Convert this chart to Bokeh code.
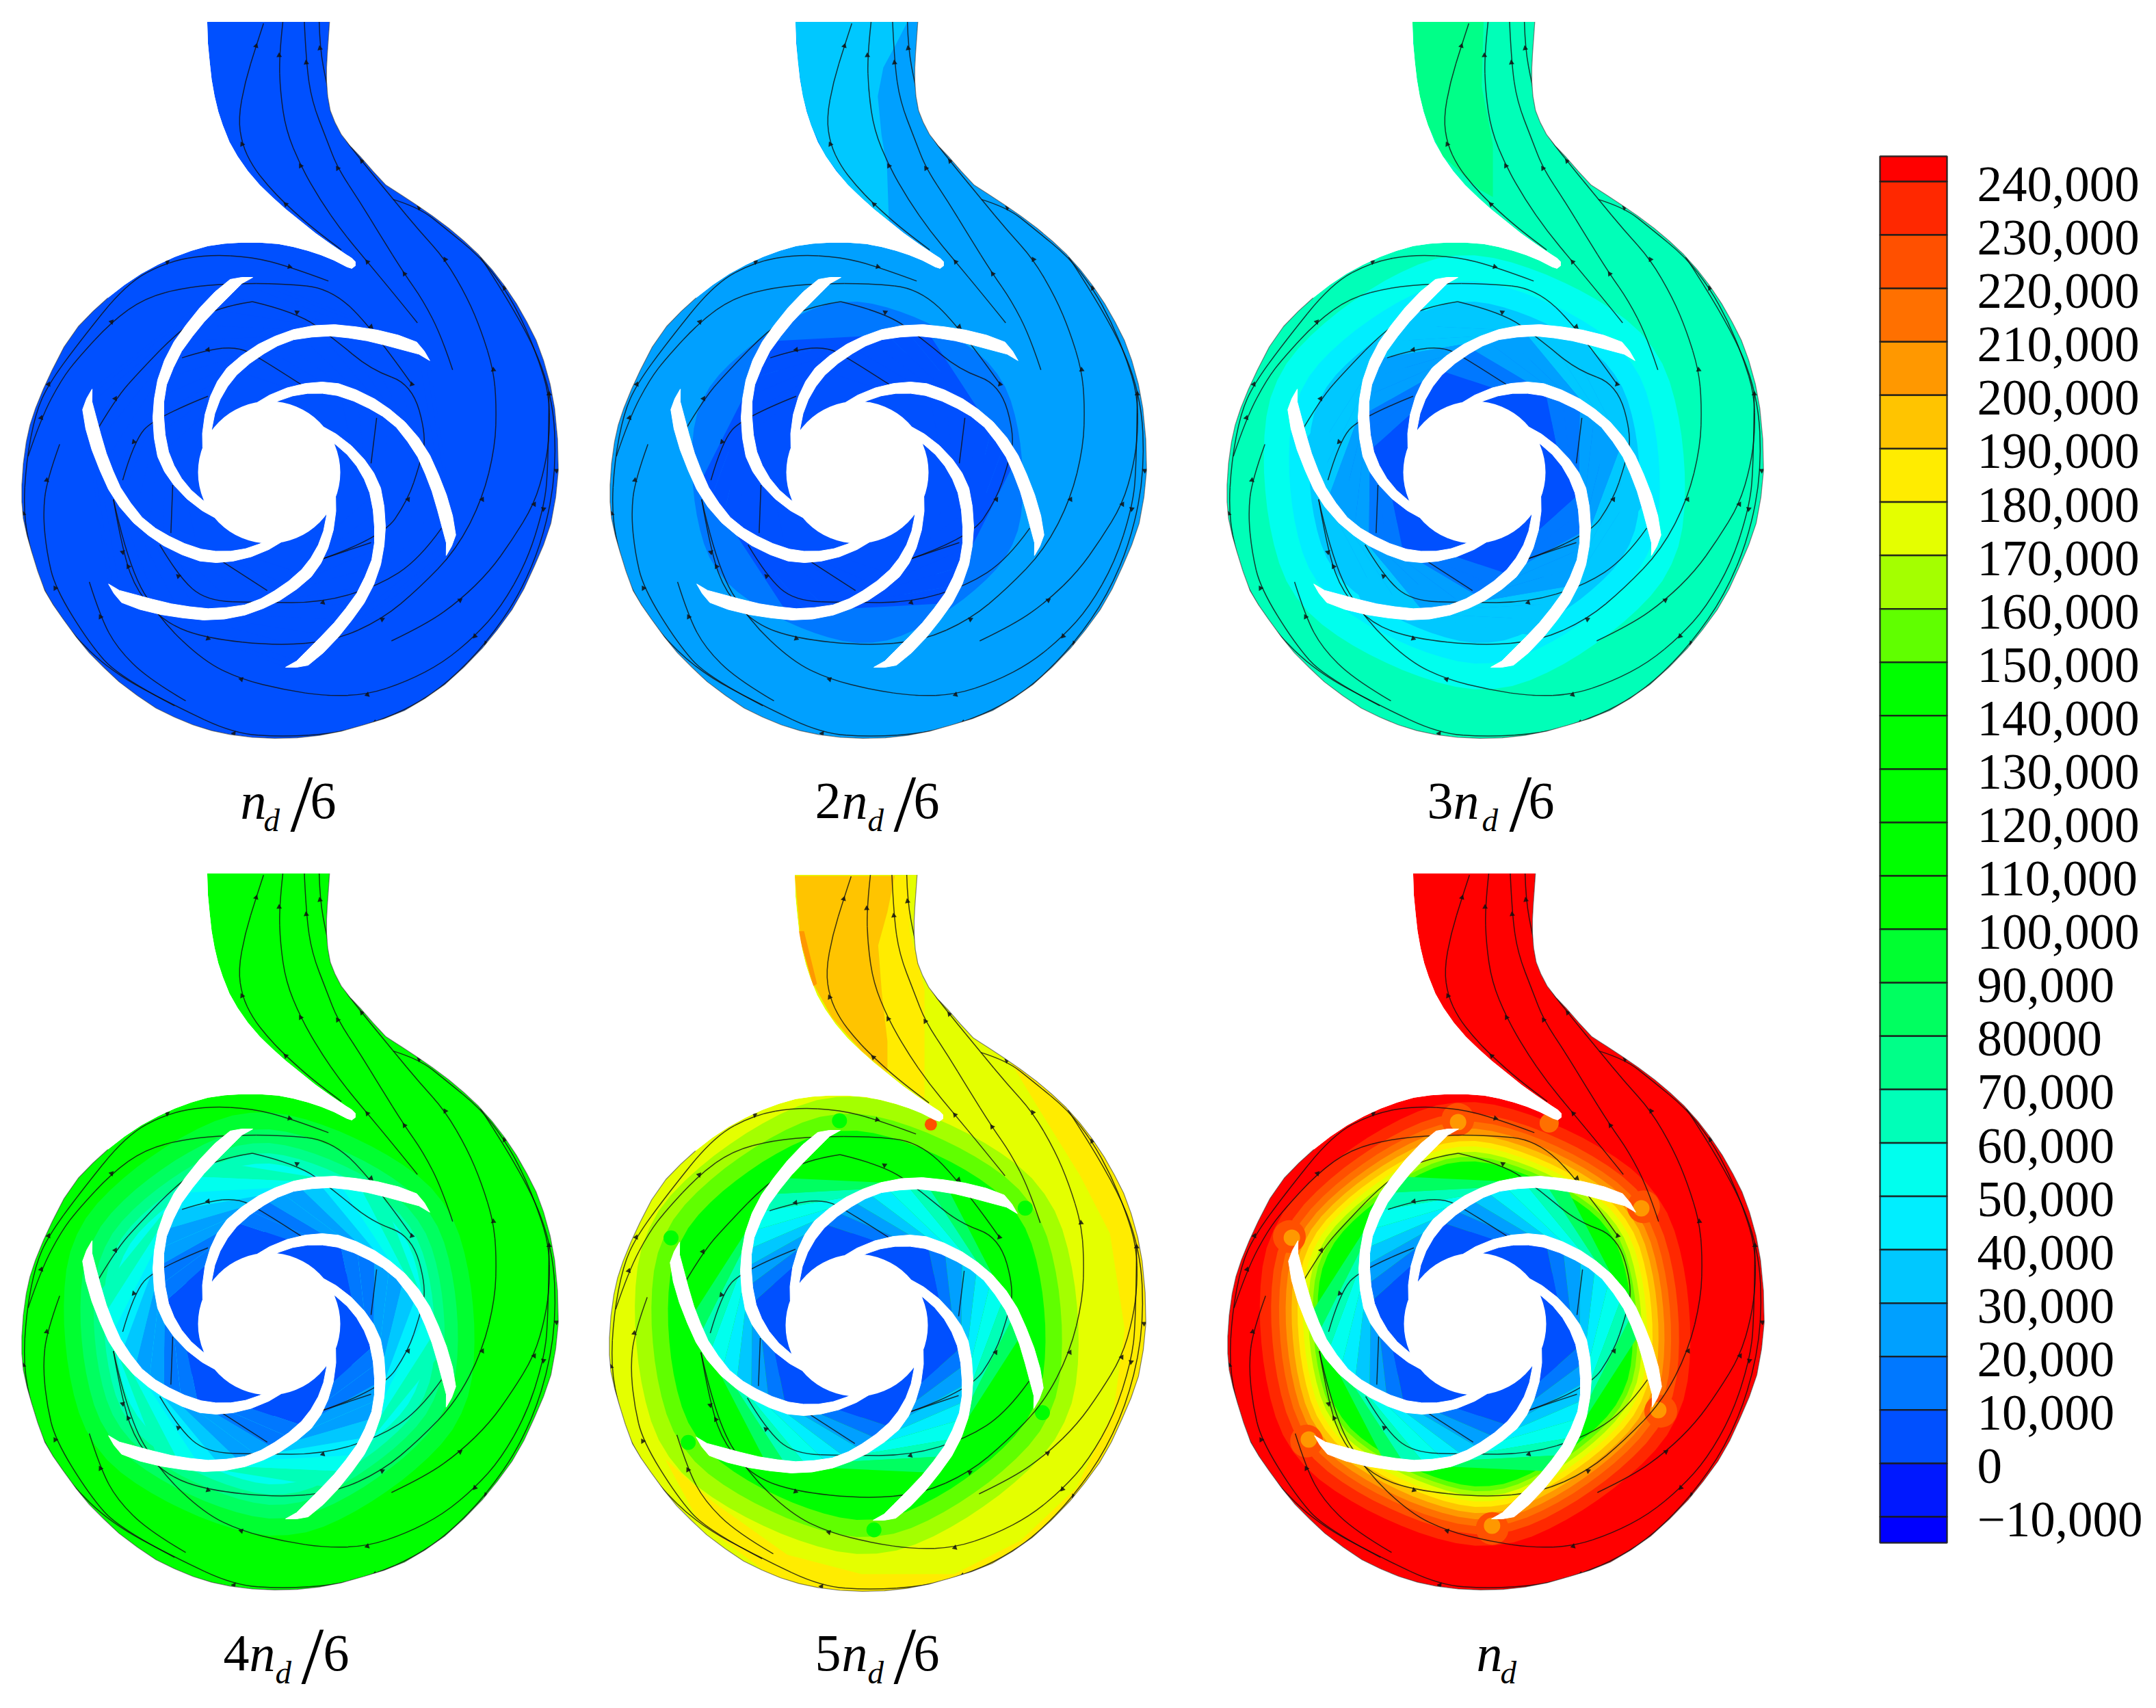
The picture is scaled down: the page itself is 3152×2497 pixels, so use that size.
import math
from bokeh.plotting import figure
from bokeh.embed import file_html
from bokeh.resources import INLINE

# ---- colour bar ----
LEVEL_LABELS = ["240,000","230,000","220,000","210,000","200,000","190,000","180,000","170,000","160,000",
                "150,000","140,000","130,000","120,000","110,000","100,000","90,000","80000","70,000","60,000",
                "50,000","40,000","30,000","20,000","10,000","0","\u221210,000"]
BLOCK_VALUES = [245,235,225,215,205,195,185,175,165,155,145,135,125,115,105,95,85,75,65,55,45,35,25,15,5,-5,-15]
BLOCK_COLORS = ["#FF0000","#FF2800","#FF5000","#FF7000","#FF9800","#FFC400","#FFEC00","#E4FF00","#A4FF00","#60FF00",
                "#00FF00","#00FF00","#00FF00","#00FF00","#00FF00","#00FF30","#00FF60","#00FF88","#00FFB8","#00FFEE",
                "#00EEFF","#00C8FF","#00A0FF","#0078FF","#0050FF","#0018FF","#0000FF"]
COLOR = dict(zip(BLOCK_VALUES, BLOCK_COLORS))
BAR_TOP, BAR_FIRST, BAR_STEP, BAR_BOTTOM, BAR_L, BAR_R = 228, 265, 78.08, 2255, 2748, 2846

# ---- pump geometry (crop scale) ----
SX, SY = 1/1.845, 1/1.4255
OUTLINE_Z = [(558,45),(560,90),(565,130),(570,165),(578,200),(588,232),(600,260),(618,295),(640,325),(668,356),(700,385),(735,411),(770,435),(810,460),(850,485),(890,507),(930,528),(948,537),(958,545),(958,553),(948,559),(935,556),(900,542),(865,531),(830,522),(790,514),(750,508),(700,505),(650,505),(605,507),(560,512),(515,522),(470,535),(425,551),(380,570),(335,593),(290,620),(250,648),(210,680),(172,722),(140,770),(116,810),(95,850),(80,885),(70,920),(62,965),(58,1010),(58,1045),(62,1080),(72,1115),(85,1150),(101,1190),(120,1230),(143,1260),(170,1290),(205,1327),(240,1360),(280,1391),(320,1420),(370,1449),(420,1475),(470,1494),(520,1510),(570,1522),(620,1530),(680,1536),(740,1538),(800,1537),(860,1532),(920,1523),(980,1510),(1035,1497),(1090,1480),(1145,1455),(1200,1425),(1250,1390),(1300,1350),(1340,1312),(1380,1270),(1412,1227),(1440,1180),(1465,1135),(1485,1090),(1498,1035),(1505,980),(1503,915),(1495,850),(1483,800),(1465,750),(1445,708),(1420,670),(1392,632),(1360,595),(1326,561),(1290,530),(1250,501),(1210,475),(1165,449),(1120,425),(1080,405),(1040,385),(1005,356),(970,325),(943,303),(920,280),(903,255),(890,230),(883,200),(880,170),(880,140),(882,110),(885,78),(888,45)]
CENTER = (393, 690)
HUB_R = 104
BLADE_OUTER = [(-24,-285),(-40,-285),(-57,-282),(-79,-264),(-101,-241),(-121,-216),(-139,-191),(-153,-164),(-163,-135),(-168,-107),(-170,-80),(-168,-50),(-163,-23),(-153,-1),(-139,19),(-120,39),(-98,56),(-80,66)]
BLADE_INNER = [(-24,-285),(-40,-276),(-54,-262),(-75,-241),(-95,-220),(-112,-199),(-128,-177),(-140,-153),(-150,-128),(-154,-103),(-154,-80),(-152,-55),(-147,-30),(-139,-10),(-128,9),(-114,26),(-98,40),(-84,50)]
RING_LOBE = [1.0,.998,.99,.98,.972,.967,.965,.967,.972,.98,.99,.998]

STREAMLINES_Z = [
 [(710,48),(690,95),(660,170),(642,245),(652,300),(680,345),(720,385),(770,425),(850,480),(920,520)],
 [(762,45),(752,115),(755,190),(770,270),(810,345),(862,415),(920,480),(990,545),(1060,610),(1125,672)],
 [(820,45),(825,130),(840,210),(880,290),(910,350),(970,420),(1025,490),(1090,570),(1140,625),(1190,700),(1220,770)],
 [(860,45),(862,100),(880,175),(910,270),(975,335),(1060,415),(1130,480),(1200,540),(1260,620),(1298,690),(1330,770),(1338,840),(1335,930),(1300,1040),(1230,1145),(1130,1225),(1030,1290),(900,1335),(745,1345),(560,1330),(450,1300),(370,1235),(330,1150),(305,1040)],
 [(1060,415),(1130,432),(1200,475),(1295,535),(1360,600),(1410,670),(1450,745),(1480,820),(1482,900),(1470,970),(1440,1050),(1380,1125),(1320,1190),(1240,1250),(1150,1300),(1055,1335)],
 [(885,585),(780,555),(680,535),(560,530),(450,545),(340,590),(210,715),(130,800),(95,860),(70,960),(62,1070),(85,1160),(110,1220),(180,1310),(300,1400),(470,1470),(630,1528),(760,1535),(905,1528),(1010,1505),(1115,1470),(1210,1420),(1310,1340),(1400,1240),(1465,1120),(1500,980),(1490,820),(1410,670),(1295,535)],
 [(1110,800),(1000,680),(890,600),(760,590),(620,590),(500,598),(390,620),(300,670),(210,745),(165,790),(110,870),(75,950)],
 [(160,925),(125,1000),(115,1070),(125,1150),(148,1225),(240,1340),(320,1410),(470,1470)],
 [(305,1040),(345,1180),(430,1290),(550,1378),(650,1415),(765,1437),(880,1450),(990,1447),(1095,1420),(1195,1380),(1280,1325),(1350,1265),(1420,1170),(1465,1060),(1478,980),(1480,820)],
 [(240,1212),(270,1285),(315,1350),(400,1415),(500,1460)],
 [(680,628),(800,650),(900,705),(1000,770),(1110,800),(1150,910),(1130,970),(1100,1040),(1030,1120),(865,1165)],
 [(680,628),(580,640),(480,690),(380,770),(310,830),(250,910)],
 [(430,1135),(480,1200),(555,1252),(700,1255),(870,1255),(1020,1220),(1130,1165),(1190,1100)],
 [(330,1000),(360,920),(415,870),(560,825)],
 [(490,745),(560,728),(640,722),(700,745),(810,800)],
 [(460,1110),(465,1010)],
 [(1000,965),(1015,870)],
 [(865,1165),(1000,1130)],
 [(600,1170),(720,1230)],
]

# ---- panels: offset, base level, ring (radius, level), passage levels root->tip (None: ring shows) ----
PANEL_DX = [0, 860, 1762, 0, 859, 1763]
PANEL_DY = [0, 0, 0, 1245, 1247, 1245]
PANEL_BASE = [5, 25, 65, 105, 175, 245]
PANEL_RINGS = [
 [],
 [(250,15),(195,5)],
 [(318,55),(280,45),(250,35),(222,25),(190,15)],
 [(310,95),(285,85),(265,75),(250,65),(235,55)],
 [(335,165),(310,155),(285,145)],
 [(325,235),(308,225),(296,215),(286,205),(277,195),(268,185),(260,175),(252,165),(245,155),(238,145)],
]
PANEL_PASSAGE = [
 [5]*13,
 [5,5,5,5,5,5,5,None,None,None,None,None,None],
 [5,15,15,25,25,25,35,35,35,None,None,None,None],
 [5,15,15,25,25,35,45,55,65,None,None,None,None],
 [5,15,25,35,45,55,65,85,None,None,None,None,None],
 [5,15,25,35,45,55,65,85,None,None,None,None,None],
]
EXTRA_P2 = [(35,[(558,45),(860,45),(830,90),(795,140),(780,200),(790,280),(805,350),(810,460),(770,435),(700,385),(640,325),(600,260),(578,200),(565,130)])]
EXTRA_P3 = [(75,[(558,45),(750,45),(745,180),(775,300),(775,410),(740,395),(640,325),(600,260),(578,200),(565,130)])]
EXTRA_P5 = [
 (185,[(1138,432),(1288,492),(1438,642),(1538,942),(1488,1192),(1288,1392),(1038,1552),(738,1552),(538,1532),(298,1392),(208,1262),(338,1352),(538,1462),(738,1502),(988,1502),(1168,1432),(1318,1322),(1418,1162),(1448,992),(1408,792),(1328,672),(1208,522)]),
 (185,[(828,47),(868,47),(868,162),(908,282),(908,512),(808,457),(808,392),(793,292),(783,192),(808,122)]),
 (195,[(558,47),(828,47),(808,122),(783,192),(793,292),(808,392),(808,457),(738,412),(658,342),(608,272),(573,172)]),
 (205,[(568,162),(583,162),(618,272),(608,277),(573,182)]),
]
PANEL_EXTRA = [[], EXTRA_P2, EXTRA_P3, [], EXTRA_P5, []]
# hot spots near blade tips: (tip index, outward offset, radius, level)
SPOTS_P5 = [(k, 14, 11, 145) for k in range(6)]
SPOTS_P6 = [(k, 14, 24, 225) for k in range(6)] + [(k, 10, 12, 205) for k in range(6)]
PANEL_SPOTS = [[], [], [], [], SPOTS_P5, SPOTS_P6]
TONGUE_SPOT = [None, None, None, None, (225,9), (215,14)]
TONGUE_Z = (925, 565)

# ---- captions: (text, x, y offset from baseline, font px, italic) ----
CAPTIONS = [
 [("n",351,0,76,True),("d",385,18,47,True),("/",424,20,118,False),("6",453,0,76,False)],
 [("2",1191,0,76,False),("n",1230,0,76,True),("d",1268,18,47,True),("/",1306,20,118,False),("6",1335,0,76,False)],
 [("3",2086,0,76,False),("n",2124,0,76,True),("d",2166,18,47,True),("/",2206,20,118,False),("6",2234,0,76,False)],
 [("4",326,0,76,False),("n",364,0,76,True),("d",402,18,47,True),("/",440,20,118,False),("6",472,0,76,False)],
 [("5",1191,0,76,False),("n",1230,0,76,True),("d",1268,18,47,True),("/",1306,20,118,False),("6",1335,0,76,False)],
 [("n",2158,0,76,True),("d",2193,18,47,True)],
]
CAPTION_BASE = [1197,1197,1197,2443,2443,2443]
TEXT_RAISE = 0.355   # baseline correction of the svg text, in em

p = figure(width=3144, height=2489, x_range=(0,3144), y_range=(2489,0), output_backend="svg",
           toolbar_location=None, min_border=0, outline_line_color=None)
p.xaxis.visible = False
p.yaxis.visible = False
p.grid.visible = False

outline = [(x*SX, y*SY) for x, y in OUTLINE_Z]

def rot(pt, k):
    a = math.radians(60*k)
    return (pt[0]*math.cos(a)-pt[1]*math.sin(a), pt[0]*math.sin(a)+pt[1]*math.cos(a))

SHIFT = 3
for i in range(6):
    dx, dy = PANEL_DX[i], PANEL_DY[i]
    cx, cy = CENTER[0]+dx, CENTER[1]+dy
    ox = [x+dx for x, _ in outline]; oy = [y+dy for _, y in outline]
    base = PANEL_BASE[i]
    p.patch(ox, oy, fill_color=COLOR[base], line_color=None)
    for lev, poly in PANEL_EXTRA[i]:
        p.patch([x*SX+dx for x, _ in poly], [y*SY+dy for _, y in poly], fill_color=COLOR[lev], line_color=None)
    # contour rings
    for r, lev in PANEL_RINGS[i]:
        rx, ry = [], []
        for j in range(72):
            a = math.radians(-95+5*j)
            f = RING_LOBE[j % 12]
            rx.append(cx+r*f*math.cos(a)); ry.append(cy+r*f*math.sin(a))
        p.patch(rx, ry, fill_color=COLOR[lev], line_color=None)
    # hot spots
    for k, off, rad, lev in PANEL_SPOTS[i]:
        tx, ty = rot(BLADE_OUTER[0], k)
        n = math.hypot(tx, ty)
        p.circle([cx+tx+tx/n*off], [cy+ty+ty/n*off], radius=rad, fill_color=COLOR[lev], line_color=None)
    if TONGUE_SPOT[i]:
        lev, rad = TONGUE_SPOT[i]
        p.circle([TONGUE_Z[0]*SX+dx], [TONGUE_Z[1]*SY+dy], radius=rad, fill_color=COLOR[lev], line_color=None)
    # blade passage bands, tip to root
    levs = PANEL_PASSAGE[i]
    nb = len(levs)
    p.circle([cx], [cy], radius=135, fill_color=COLOR[levs[0]], line_color=None)
    for k in range(6):
        for b in range(nb):
            lev = levs[nb-1-b]
            if lev is None:
                continue
            pts = [rot(BLADE_OUTER[b], k), rot(BLADE_OUTER[b+1], k),
                   rot(BLADE_OUTER[b+1+SHIFT], k+1), rot(BLADE_OUTER[b+SHIFT], k+1)]
            if b == nb-1:
                pts = [rot(q, k) for q in BLADE_OUTER[b:]] + [rot(BLADE_OUTER[b+SHIFT], k+1)]
            p.patch([cx+q[0] for q in pts], [cy+q[1] for q in pts], fill_color=COLOR[lev], line_color=None)
    # streamlines (quadratic curves through the read vertices) and arrow heads
    ax, ay, ang = [], [], []
    for line in STREAMLINES_Z:
        lx = [x*SX+dx for x, _ in line]; ly = [y*SY+dy for _, y in line]
        x0 = [lx[0]] + [(lx[m]+lx[m+1])/2 for m in range(1, len(lx)-2)]
        y0 = [ly[0]] + [(ly[m]+ly[m+1])/2 for m in range(1, len(ly)-2)]
        x1 = [(lx[m]+lx[m+1])/2 for m in range(1, len(lx)-2)] + [lx[-1]]
        y1 = [(ly[m]+ly[m+1])/2 for m in range(1, len(ly)-2)] + [ly[-1]]
        if len(lx) > 2:
            p.quadratic(x0=x0, y0=y0, x1=x1, y1=y1, cx=lx[1:-1], cy=ly[1:-1], line_color="#101010", line_width=1.5, line_alpha=0.8)
        else:
            p.line(lx, ly, line_color="#101010", line_width=1.5, line_alpha=0.8)
        for m in range(1, len(lx)-1, 3):
            ax.append(lx[m]); ay.append(ly[m])
            ang.append(math.atan2(lx[m+1]-lx[m], ly[m+1]-ly[m]))
    p.scatter(ax, ay, marker="triangle", size=8, angle=ang, fill_color="#101010", line_color=None, fill_alpha=0.85)
    # blades and hub
    for k in range(6):
        pts = [rot(q, k) for q in BLADE_OUTER] + [rot(q, k) for q in reversed(BLADE_INNER)]
        p.patch([cx+q[0] for q in pts], [cy+q[1] for q in pts], fill_color="white", line_color="white", line_width=1)
    p.circle([cx], [cy], radius=HUB_R, fill_color="white", line_color=None)
    # white mask outside the casing
    L, R, T, B = min(ox)-30, max(ox)+30, min(oy)-6, max(oy)+30
    p.multi_polygons(xs=[[[[L,R,R,L], ox]]], ys=[[[[T,T,B,B], oy]]], fill_color="white", line_color=None)
    # speckled casing wall
    p.line(ox[36:], oy[36:], line_color="#202020", line_width=1.2, line_alpha=0.55)

# colour bar
tops = [BAR_TOP] + [BAR_FIRST+BAR_STEP*k for k in range(26)]
bots = [BAR_FIRST+BAR_STEP*k for k in range(26)] + [BAR_BOTTOM]
p.quad(left=[BAR_L]*27, right=[BAR_R]*27, top=tops, bottom=bots, fill_color=BLOCK_COLORS,
       line_color="#1a1a1a", line_width=2.5, line_alpha=0.85)
p.text([2890]*26, [295-TEXT_RAISE*73+BAR_STEP*k for k in range(26)], text=LEVEL_LABELS, text_font="Liberation Serif",
       text_font_size="73px", text_color="black", text_baseline="alphabetic", text_align="left")

# captions
for base, parts in zip(CAPTION_BASE, CAPTIONS):
    for t, x, off, size, ital in parts:
        p.text([x], [base+off-TEXT_RAISE*size], text=[t], text_font="Liberation Serif", text_font_size=f"{size}px",
               text_font_style="italic" if ital else "normal", text_color="black",
               text_baseline="alphabetic", text_align="left")

open("out.html", "w").write(file_html(p, INLINE))
